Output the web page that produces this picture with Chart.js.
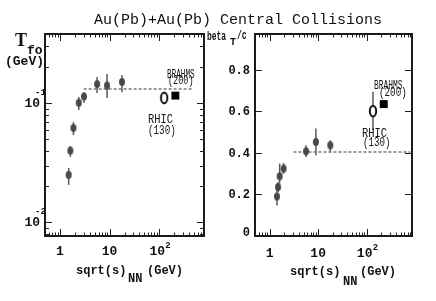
<!DOCTYPE html>
<html>
<head>
<meta charset="utf-8">
<script src="https://cdn.jsdelivr.net/npm/chart.js@4.4.0/dist/chart.umd.min.js"></script>
<style>
  body { margin: 0; background: #fff; }
  #wrap { position: relative; width: 436px; height: 301px; overflow: hidden; font-family: "Liberation Mono", monospace; color: #111; }
  canvas { position: absolute; top: 0; }
  .t { position: absolute; white-space: nowrap; line-height: 1; transform-origin: 0 0; }
  .a { font-size: 12px; }
</style>
</head>
<body>
<div id="wrap">
  <canvas id="cT" width="218" height="301" style="left:0"></canvas>
  <canvas id="cB" width="218" height="301" style="left:218px"></canvas>

  <div class="t" style="left:94px;top:13px;font-size:15px">Au(Pb)+Au(Pb) Central Collisions</div>

  <div class="t" style="left:15px;top:30px;font:bold 18px 'Liberation Serif'">T</div>
  <div class="t" style="left:27px;top:44px;font-size:13px;font-weight:bold">fo</div>
  <div class="t" style="left:5px;top:55px;font-size:13px;font-weight:bold">(GeV)</div>

  <div class="t" style="left:207px;top:31px;font-size:12px;font-weight:bold;transform:scaleX(0.66)">beta</div>
  <div class="t" style="left:230px;top:38px;font-size:10px;font-weight:bold">T</div>
  <div class="t" style="left:237px;top:30px;font-size:12px;font-weight:bold;transform:scaleX(0.67)">/c</div>

  <div class="t" style="left:76px;top:265px;font-size:12px;font-weight:bold">sqrt(s)</div>
  <div class="t" style="left:128px;top:273px;font-size:12px;font-weight:bold">NN</div>
  <div class="t" style="left:147px;top:265px;font-size:12px;font-weight:bold">(GeV)</div>
  <div class="t" style="left:290px;top:266px;font-size:12px;font-weight:bold">sqrt(s)</div>
  <div class="t" style="left:343px;top:276px;font-size:12px;font-weight:bold">NN</div>
  <div class="t" style="left:360px;top:266px;font-size:12px;font-weight:bold">(GeV)</div>

  <div class="t a" style="left:167px;top:68.5px;transform:scaleX(0.64)">BRAHMS</div>
  <div class="t a" style="left:168px;top:75.3px;transform:scaleX(0.71)">(200)</div>
  <div class="t a" style="left:148px;top:114px;transform:scaleX(0.87)">RHIC</div>
  <div class="t a" style="left:148px;top:124.8px;transform:scaleX(0.77)">(130)</div>
  <div class="t a" style="left:374px;top:79.8px;transform:scaleX(0.66)">BRAHMS</div>
  <div class="t a" style="left:379px;top:86.8px;transform:scaleX(0.77)">(200)</div>
  <div class="t a" style="left:362px;top:128px;transform:scaleX(0.87)">RHIC</div>
  <div class="t a" style="left:363px;top:136.8px;transform:scaleX(0.76)">(130)</div>
</div>

<script>
// freeze-out temperature (GeV) vs sqrt(s_NN)
const tEnergy = [1.5, 1.62, 1.87, 2.4, 3.05, 5.6, 8.9, 17.8];
const tValue  = [0.025, 0.040, 0.062, 0.101, 0.114, 0.145, 0.141, 0.151];
const tLow    = [0.0206, 0.0354, 0.054, 0.088, 0.1006, 0.122, 0.111, 0.124];
const tHigh   = [0.0286, 0.0437, 0.0697, 0.113, 0.124, 0.166, 0.176, 0.173];
const tRhic   = { e: 126, v: 0.111, lo: 0.098, hi: 0.125 };
const tBrahms = { e: 212, v: 0.116 };
const tPlateau = { from: 3.0, to: 450, v: 0.132 };

// transverse flow velocity vs sqrt(s_NN)
const bEnergy = [1.42, 1.49, 1.61, 1.94, 5.63, 9.0, 17.8];
const bValue  = [0.19, 0.235, 0.287, 0.324, 0.407, 0.452, 0.436];
const bLow    = [0.147, 0.211, 0.252, 0.30, 0.38, 0.388, 0.404];
const bHigh   = [0.227, 0.259, 0.348, 0.351, 0.436, 0.517, 0.46];
const bRhic   = { e: 135, v: 0.60, lo: 0.508, hi: 0.693 };
const bBrahms = { e: 225, v: 0.634 };
const bPlateau = { from: 3.1, to: 790, v: 0.404 };

// tick labels
const xTickValues = [1, 10, 100];
const xTickText = [['1', ''], ['10', ''], ['10', '2']];
const tTickValues = [0.01, 0.1];
const tTickText = [['10', '-2'], ['10', '-1']];
const bTickValues = [0, 0.2, 0.4, 0.6, 0.8];
const bTickText = ['0', '0.2', '0.4', '0.6', '0.8'];

function ellipse(w, h, rx, ry, fill, stroke) {
  const c = document.createElement('canvas');
  c.width = w; c.height = h;
  const g = c.getContext('2d');
  g.beginPath();
  g.ellipse(w / 2, h / 2, rx, ry, 0, 0, Math.PI * 2);
  g.fillStyle = fill; g.fill();
  if (stroke) { g.lineWidth = 2; g.strokeStyle = stroke; g.stroke(); }
  return c;
}
const dot = ellipse(8, 10, 3, 4, '#484848');
const ring = ellipse(10, 14, 3.2, 5.2, '#fff', '#111');

function logTicks(min, max) {
  const out = [];
  for (let d = Math.floor(Math.log10(min)); d <= Math.ceil(Math.log10(max)); d++) {
    for (let m = 1; m < 10; m++) {
      const v = m * Math.pow(10, d);
      if (v >= min * 0.999 && v <= max * 1.001) out.push({ v, major: m === 1 });
    }
  }
  return out;
}

function deco(opt) {
  return {
    id: 'deco',
    beforeDatasetsDraw(chart) {
      const { ctx, scales: { x, y } } = chart;
      ctx.save();
      ctx.strokeStyle = '#5a5a5a';
      ctx.lineWidth = 1.5;
      opt.bars.forEach(b => {
        b.e.forEach((ev, i) => {
          const px = x.getPixelForValue(ev);
          ctx.beginPath();
          ctx.moveTo(px, y.getPixelForValue(b.lo[i]));
          ctx.lineTo(px, y.getPixelForValue(b.hi[i]));
          ctx.stroke();
        });
      });
      ctx.restore();
    },
    afterDatasetsDraw(chart) {
      const { ctx, chartArea: a, scales: { x, y } } = chart;
      ctx.save();
      // ticks, inward on all four sides
      ctx.strokeStyle = '#222';
      ctx.lineWidth = 1;
      logTicks(x.min, x.max).forEach(t => {
        const px = Math.round(x.getPixelForValue(t.v)) + 0.5;
        const len = t.major ? 7 : 3.5;
        ctx.beginPath();
        ctx.moveTo(px, a.bottom); ctx.lineTo(px, a.bottom - len);
        ctx.moveTo(px, a.top); ctx.lineTo(px, a.top + len);
        ctx.stroke();
      });
      const yt = opt.yLog ? logTicks(y.min, y.max) : opt.yTicks.map(v => ({ v, major: true }));
      yt.forEach(t => {
        const py = Math.round(y.getPixelForValue(t.v)) + 0.5;
        const len = t.major ? 7 : 4;
        ctx.beginPath();
        ctx.moveTo(a.left, py); ctx.lineTo(a.left + len, py);
        ctx.moveTo(a.right, py); ctx.lineTo(a.right - len, py);
        ctx.stroke();
      });
      // frame
      ctx.lineWidth = 2;
      ctx.strokeStyle = '#1a1a1a';
      ctx.strokeRect(a.left, a.top, a.right - a.left, a.bottom - a.top);

      // x tick labels
      ctx.fillStyle = '#111';
      ctx.textBaseline = 'alphabetic';
      xTickValues.forEach((v, i) => {
        const px = x.getPixelForValue(v);
        const [base, sup] = xTickText[i];
        ctx.font = 'bold 13px "Liberation Mono"';
        ctx.textAlign = 'center';
        ctx.fillText(base, sup ? px - 2 : px, a.bottom + opt.xLabelDy);
        if (sup) {
          ctx.font = 'bold 9px "Liberation Mono"';
          ctx.textAlign = 'left';
          ctx.fillText(sup, px + 6, a.bottom + opt.xLabelDy - 7);
        }
      });
      // y tick labels
      opt.yLabels.values.forEach((v, i) => {
        const py = y.getPixelForValue(v);
        const txt = opt.yLabels.text[i];
        if (Array.isArray(txt)) {
          ctx.font = 'bold 13px "Liberation Mono"';
          ctx.textAlign = 'right';
          ctx.fillText(txt[0], a.left - 5, py + 4);
          ctx.font = 'bold 9px "Liberation Mono"';
          ctx.textAlign = 'left';
          ctx.fillText(txt[1], a.left - 10, py - 8);
        } else {
          ctx.font = 'bold 12px "Liberation Mono"';
          ctx.textAlign = 'right';
          ctx.fillText(txt, a.left - 5, Math.min(py + 4, a.bottom));
        }
      });
      ctx.restore();
    }
  };
}

function panel(id, cfg) {
  return new Chart(document.getElementById(id), {
    type: 'scatter',
    data: {
      datasets: [
        { data: cfg.energy.map((e, i) => ({ x: e, y: cfg.value[i] })), pointStyle: dot, pointRadius: 4 },
        { data: [{ x: cfg.rhic.e, y: cfg.rhic.v }], pointStyle: ring, pointRadius: 5 },
        { data: [{ x: cfg.brahms.e, y: cfg.brahms.v }], pointStyle: 'rect', pointRadius: 5.6,
          backgroundColor: '#000', borderColor: '#000', borderWidth: 0 },
        { type: 'line', data: [{ x: cfg.plateau.from, y: cfg.plateau.v }, { x: cfg.plateau.to, y: cfg.plateau.v }],
          borderColor: '#7a7a7a', borderWidth: 1.5, borderDash: [3, 2], pointRadius: 0, fill: false }
      ]
    },
    options: {
      responsive: false,
      animation: false,
      layout: { padding: cfg.padding },
      scales: {
        x: { type: 'logarithmic', min: 0.5, max: cfg.xMax, display: false },
        y: cfg.y
      },
      plugins: { legend: { display: false }, tooltip: { enabled: false } }
    },
    plugins: [deco(cfg.deco)]
  });
}

panel('cT', {
  energy: tEnergy, value: tValue, rhic: tRhic, brahms: tBrahms, plateau: tPlateau,
  padding: { left: 45, right: 14, top: 34, bottom: 65 },
  xMax: 800,
  y: { type: 'logarithmic', min: 0.00767, max: 0.382, display: false },
  deco: {
    yLog: true, xLabelDy: 19,
    yLabels: { values: tTickValues, text: tTickText },
    bars: [{ e: tEnergy, lo: tLow, hi: tHigh }, { e: [tRhic.e], lo: [tRhic.lo], hi: [tRhic.hi] }]
  }
});

panel('cB', {
  energy: bEnergy, value: bValue, rhic: bRhic, brahms: bBrahms, plateau: bPlateau,
  padding: { left: 37, right: 24, top: 34, bottom: 65 },
  xMax: 860,
  y: { type: 'linear', min: 0, max: 0.971, display: false },
  deco: {
    yLog: false, yTicks: bTickValues.slice(1), xLabelDy: 21,
    yLabels: { values: bTickValues, text: bTickText },
    bars: [{ e: bEnergy, lo: bLow, hi: bHigh }, { e: [bRhic.e], lo: [bRhic.lo], hi: [bRhic.hi] }]
  }
});
</script>
</body>
</html>
